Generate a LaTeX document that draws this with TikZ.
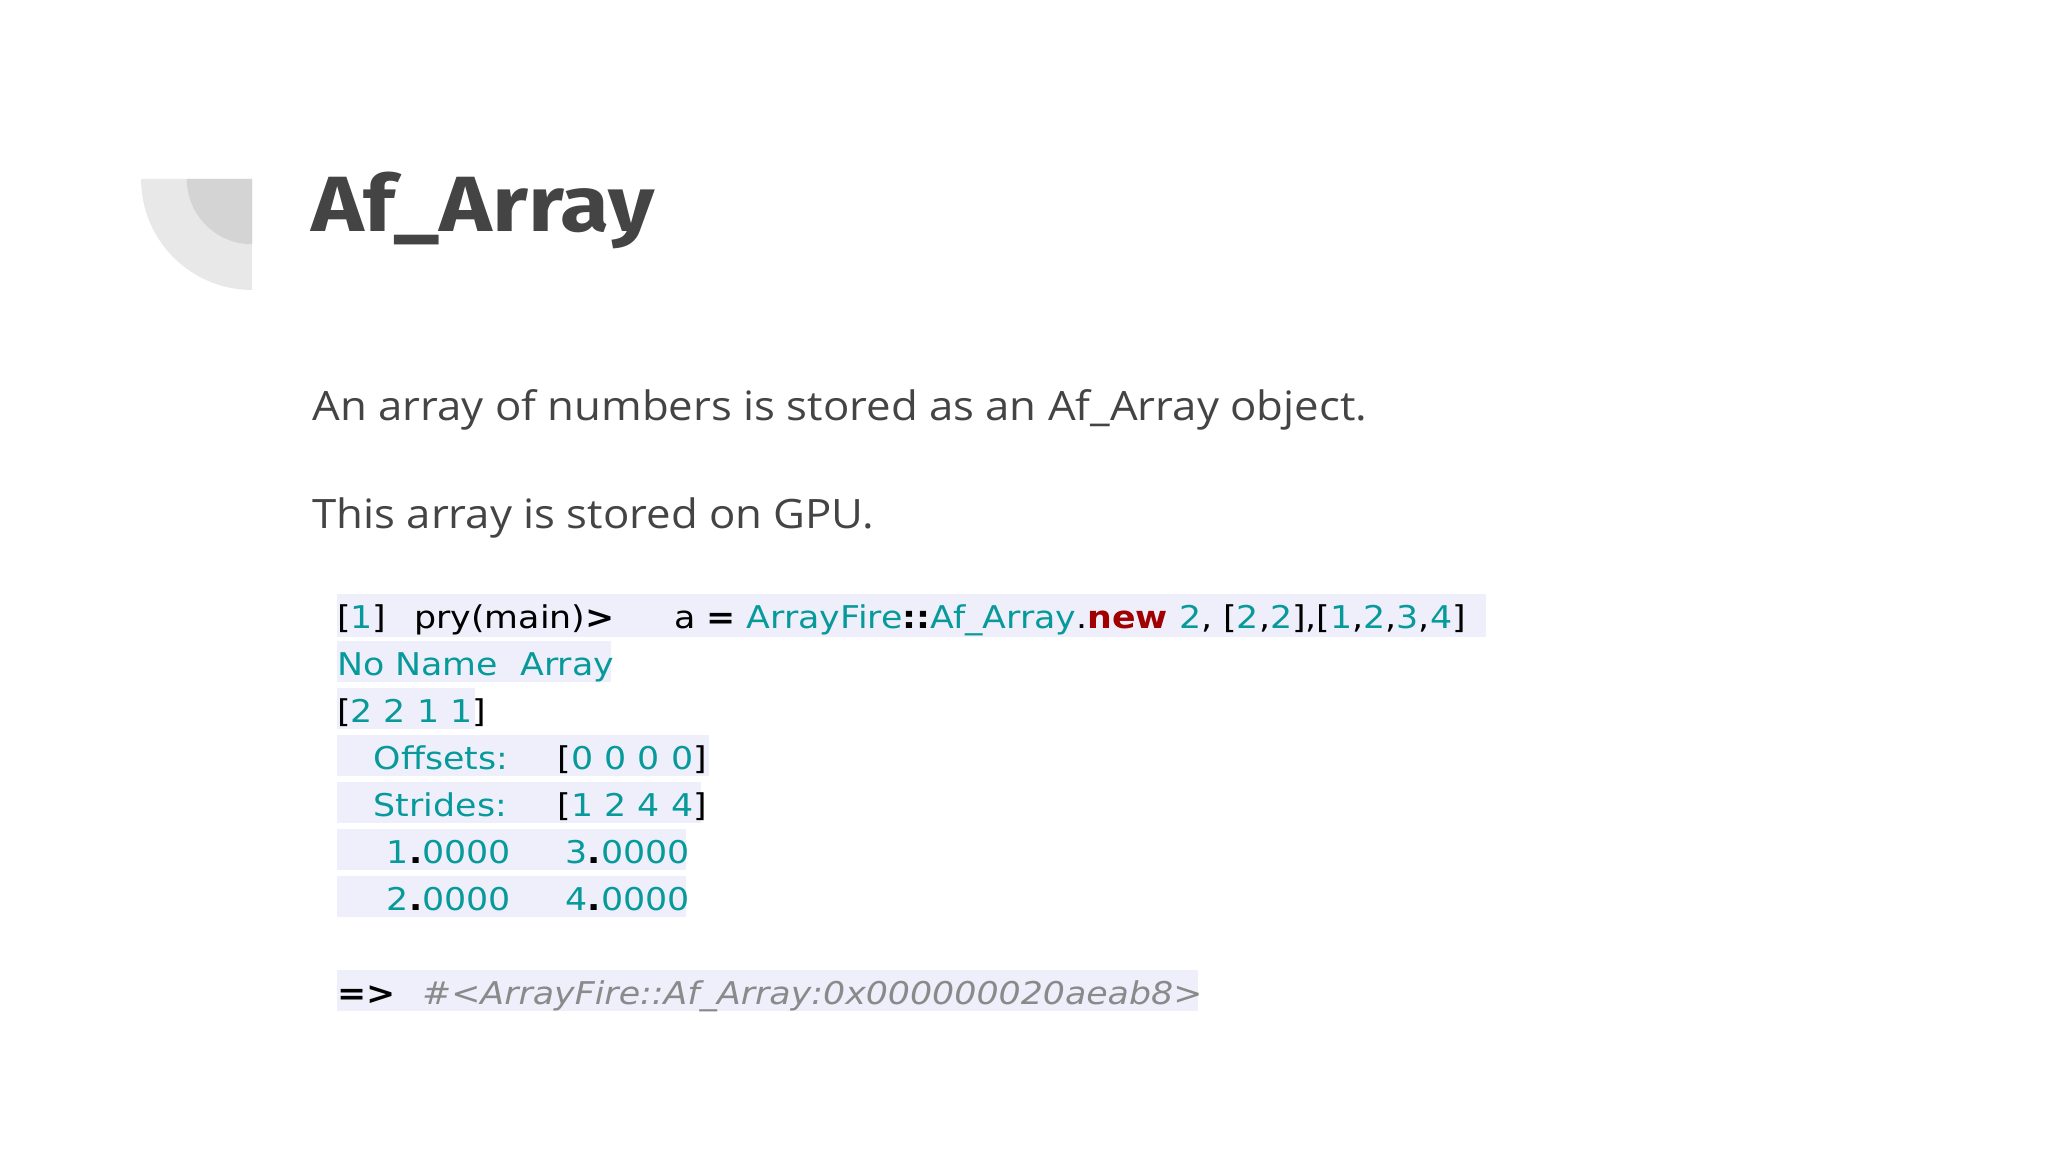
\documentclass[tikz,border=0pt]{standalone}
\usepackage{fontspec}
\setmainfont[FakeStretch=1.08]{Open Sans}
\newfontfamily\titlefont[FakeStretch=1.14]{Fira Sans}
\newfontfamily\codefont[FakeStretch=1.11]{DejaVu Sans}
\definecolor{tealc}{HTML}{079A9A}
\definecolor{redc}{HTML}{A00000}
\definecolor{grayc}{HTML}{8A8A8A}
\definecolor{hl}{HTML}{EFEEFB}
\definecolor{txt}{HTML}{444444}
\begin{document}
\begin{tikzpicture}[x=1pt,y=-1pt,
  code/.style={anchor=base west,inner sep=0pt,font=\codefont\fontsize{24}{28}\selectfont}]
\useasboundingbox[fill=white] (0,0) rectangle (1568,882);
% decoration
\fill[black!9] (193,137) -- (108,137) arc[start angle=180,end angle=90,radius=85] -- cycle;
\fill[black!17] (193,137) -- (143,137) arc[start angle=180,end angle=90,radius=50] -- cycle;
\node[anchor=base west,inner sep=0pt,text=txt,font=\titlefont\bfseries\fontsize{60}{70}\selectfont] (title) at (238,177) {Af\_Array};
\node[anchor=base west,inner sep=0pt,text=txt,font=\fontsize{31}{36}\selectfont] (p1) at (239,322) {An array of numbers is stored as an Af\_Array object.};
\node[anchor=base west,inner sep=0pt,text=txt,font=\fontsize{31}{36}\selectfont] (p2) at (239,405) {This array is stored on GPU.};
% highlights
\fill[hl] (258,455) rectangle (1138,488);
\fill[hl] (258,491) rectangle (468,522);
\fill[hl] (258,527) rectangle (364,558);
\fill[hl] (258,563) rectangle (543,594);
\fill[hl] (258,599) rectangle (537,630);
\fill[hl] (258,635) rectangle (525,666);
\fill[hl] (258,671) rectangle (525,702);
\fill[hl] (258,743) rectangle (917,774);
% code
\node[code] (l1a) at (258,481) {[\textcolor{tealc}{1}]};
\node[code] (l1b) at (317,481) {pry(main)\textbf{>}};
\node[code] (l1c) at (516,481) {a \textbf{=} \textcolor{tealc}{ArrayFire}\textbf{::}\textcolor{tealc}{Af\_Array}.\textcolor{redc}{\textbf{new}} \textcolor{tealc}{2}, [\textcolor{tealc}{2},\textcolor{tealc}{2}],[\textcolor{tealc}{1},\textcolor{tealc}{2},\textcolor{tealc}{3},\textcolor{tealc}{4}]};
\node[code,text=tealc] (l2) at (258,517) {No Name\ \ Array};
\node[code] (l3) at (258,553) {[\textcolor{tealc}{2 2 1 1}]};
\node[code,text=tealc] (l4a) at (286,589) {Offsets:};
\node[code] (l4b) at (427,589) {[\textcolor{tealc}{0 0 0 0}]};
\node[code,text=tealc] (l5a) at (286,625) {Strides:};
\node[code] (l5b) at (427,625) {[\textcolor{tealc}{1 2 4 4}]};
\node[code,text=tealc] (l6a) at (296,661) {1\textcolor{black}{\textbf{.}}0000};
\node[code,text=tealc] (l6b) at (433,661) {3\textcolor{black}{\textbf{.}}0000};
\node[code,text=tealc] (l7a) at (296,697) {2\textcolor{black}{\textbf{.}}0000};
\node[code,text=tealc] (l7b) at (433,697) {4\textcolor{black}{\textbf{.}}0000};
\node[code,font=\codefont\bfseries\fontsize{24}{28}\selectfont] (r1) at (258,769) {=>};
\node[code,text=grayc,font=\codefont\itshape\fontsize{24}{28}\selectfont] (r2) at (323,769) {\#<ArrayFire::Af\_Array:0x000000020aeab8>};
\end{tikzpicture}
\end{document}
